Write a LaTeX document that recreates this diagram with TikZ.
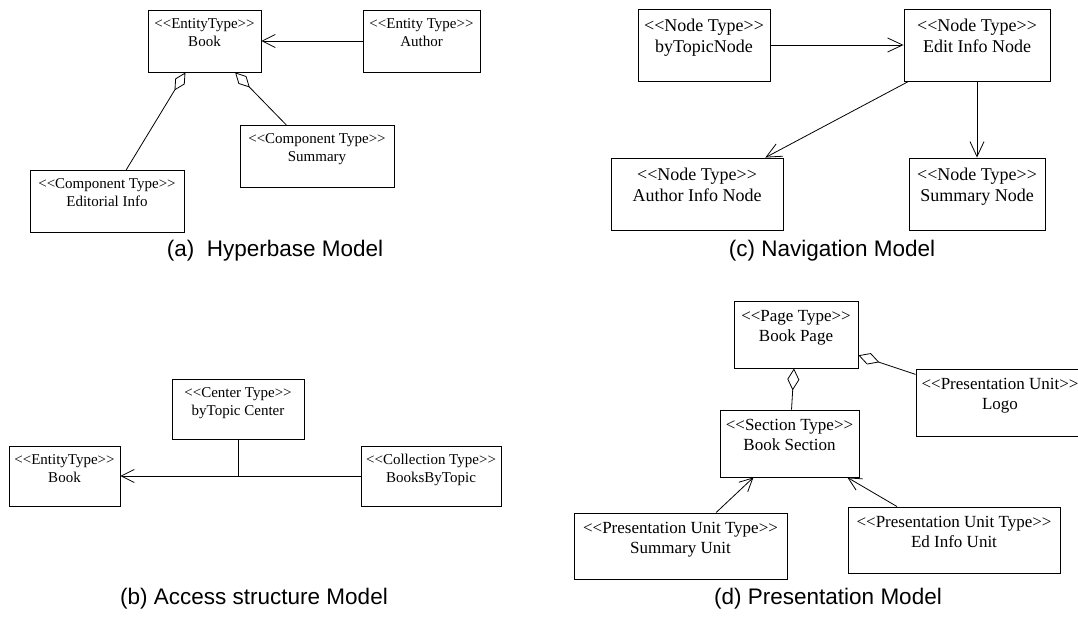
\documentclass[tikz,border=0pt]{standalone}
\usepackage{fontspec}
\setmainfont{Liberation Serif}
\newfontfamily\capfont{Liberation Sans}
\usetikzlibrary{arrows.meta}
\newcommand\stopen{\mbox{<}\mbox{<}}
\newcommand\stclose{\mbox{>}\mbox{>}}
\newcommand\umltext[5]{\parbox[c][#2][t]{#1}{\centering\vspace*{#3}\strut #4\\#5}}
\tikzset{
  umlbox/.style={draw=black, line width=0.9pt, inner sep=0pt, fill=white},
  fa/.style={font=\fontsize{15}{18}\selectfont},
  fc/.style={font=\fontsize{18}{21}\selectfont},
  fd/.style={font=\fontsize{17}{20}\selectfont},
  conn/.style={draw=black, line width=0.8pt},
  nav/.style={conn, -{Straight Barb[length=13pt,width=13pt]}},
  navc/.style={conn, -{Straight Barb[length=15pt,width=14pt]}},
  agga/.style={conn, {Diamond[open,length=21pt,width=11pt]}-},
  aggd/.style={conn, {Diamond[open,length=22pt,width=12pt]}-},
  caption/.style={font=\capfont\fontsize{22.5}{27}\selectfont, anchor=base, inner sep=0pt},
}
\begin{document}
\begin{tikzpicture}[x=1pt, y=-1pt]
\useasboundingbox (0,0) rectangle (1078,620);
\fill[white] (0,0) rectangle (1078,620);
\clip (0,0) rectangle (1078,620);

% (a) Hyperbase Model
\node[umlbox, fa] (abook) at (204.5,41) {\umltext{113pt}{62pt}{5.5pt}{\stopen EntityType\stclose}{Book}};
\node[umlbox, fa] (aauthor) at (421.5,41) {\umltext{117pt}{62pt}{5.5pt}{\stopen Entity Type\stclose}{Author}};
\node[umlbox, fa] (asum) at (317,156.5) {\umltext{154pt}{62pt}{5.5pt}{\stopen Component Type\stclose}{Summary}};
\node[umlbox, fa] (aedit) at (107,201.5) {\umltext{154pt}{62pt}{5.5pt}{\stopen Component Type\stclose}{Editorial Info}};
\draw[nav] (aauthor) -- (abook);
\draw[agga] (abook) -- (aedit);
\draw[agga] (abook) -- (asum);
\node[caption] (capa) at (275,257) {(a)~~Hyperbase Model};

% (c) Navigation Model
\node[umlbox, fc] (ctopic) at (704,45) {\umltext{132pt}{72pt}{8pt}{\stopen Node Type\stclose}{byTopicNode}};
\node[umlbox, fc] (cedit) at (977,45) {\umltext{146pt}{72pt}{8pt}{\stopen Node Type\stclose}{Edit Info Node}};
\node[umlbox, fc] (cauthor) at (697,194) {\umltext{172pt}{72pt}{8pt}{\stopen Node Type\stclose}{Author Info Node}};
\node[umlbox, fc] (csum) at (977,194) {\umltext{136pt}{72pt}{8pt}{\stopen Node Type\stclose}{Summary Node}};
\draw[navc] (ctopic) -- (cedit);
\draw[navc] (cedit) -- (cauthor);
\draw[navc] (cedit) -- (csum);
\node[caption] (capc) at (832,257) {(c) Navigation Model};

% (b) Access structure Model
\node[umlbox, fa] (bcenter) at (238,409) {\umltext{132pt}{60pt}{6pt}{\stopen Center Type\stclose}{byTopic Center}};
\node[umlbox, fa] (bbook) at (64.5,476) {\umltext{111pt}{60pt}{6pt}{\stopen EntityType\stclose}{Book}};
\node[umlbox, fa] (bbt) at (431,476) {\umltext{140pt}{60pt}{6pt}{\stopen Collection Type\stclose}{BooksByTopic}};
\draw[nav] (bbt) -- (bbook);
\draw[conn] (bcenter.south) -- (bcenter.south |- bbook.center);
\node[caption] (capb) at (254,604) {(b) Access structure Model};

% (d) Presentation Model
\node[umlbox, fd] (dpage) at (796,334.5) {\umltext{124pt}{67pt}{6.5pt}{\stopen Page Type\stclose}{Book Page}};
\node[umlbox, fd] (dsec) at (789.5,443.5) {\umltext{139pt}{67pt}{6.5pt}{\stopen Section Type\stclose}{Book Section}};
\node[umlbox, fd] (dlogo) at (1000,402.5) {\umltext{168pt}{67pt}{6.5pt}{\stopen Presentation Unit\stclose}{Logo}};
\node[umlbox, fd] (dsum) at (680.5,546) {\umltext{213pt}{66pt}{6.5pt}{\stopen Presentation Unit Type\stclose}{Summary Unit}};
\node[umlbox, fd] (ded) at (954,540) {\umltext{212pt}{66pt}{6.5pt}{\stopen Presentation Unit Type\stclose}{Ed Info Unit}};
\draw[aggd] (dpage) -- (dsec);
\draw[aggd] (dpage) -- (dlogo);
\draw[nav] (dsum) -- (dsec);
\draw[nav] (ded) -- (dsec);
\node[caption] (capd) at (828,604) {(d) Presentation Model};
\end{tikzpicture}
\end{document}
